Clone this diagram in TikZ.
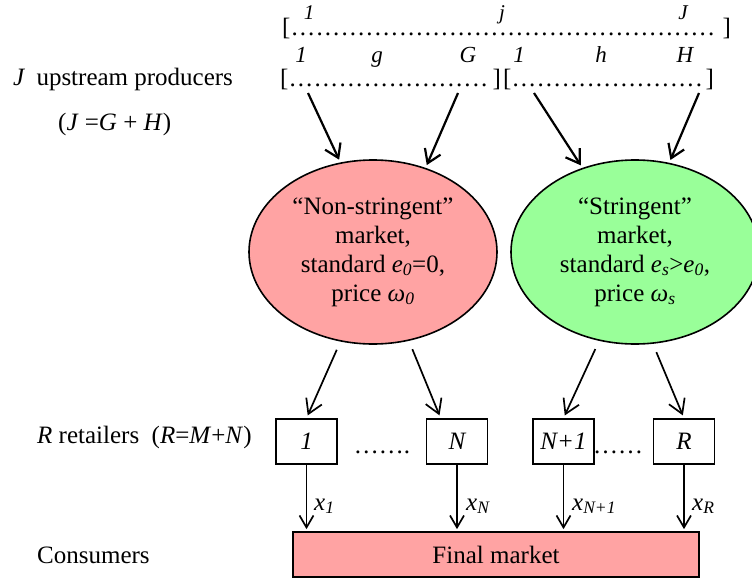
\documentclass[tikz,border=0pt]{standalone}
\usepackage{fontspec}
\setmainfont{Liberation Serif}
\usetikzlibrary{arrows.meta,shapes.geometric}
\definecolor{pinkfill}{RGB}{255,163,163}
\definecolor{greenfill}{RGB}{153,255,153}
\newcommand\dotrow[1]{\makebox[#1]{\leaders\hbox to 8.33pt{\hss.\hss}\hfill}}
\newcommand\subit[1]{\textsubscript{\textit{#1}}}
\begin{document}
\begin{tikzpicture}[x=1pt,y=-1pt,
  txt/.style={font=\fontsize{25}{29}\selectfont, inner sep=0pt},
  lab/.style={font=\fontsize{23}{27}\selectfont\itshape, inner sep=0pt, anchor=base},
  toplab/.style={font=\fontsize{21}{25}\selectfont\itshape, inner sep=0pt, anchor=base},
  market/.style={ellipse, draw, line width=1.6pt, minimum width=248pt, minimum height=184pt, inner sep=0pt, align=center, font=\fontsize{25}{29}\selectfont},
  retailer/.style={draw, line width=1.7pt, minimum width=61pt, minimum height=45pt, inner sep=0pt, font=\fontsize{25}{29}\selectfont\itshape},
  bigarrow/.style={line width=2.2pt, -{Straight Barb[length=13pt,width=17pt]}},
  midarrow/.style={line width=1.7pt, -{Straight Barb[length=14pt,width=17pt]}},
  downarrow/.style={line width=1.7pt, -{Straight Barb[length=12pt,width=14pt]}},
]
\useasboundingbox[fill=white] (0,0) rectangle (752,581);

% producer rows
\node[toplab] (lj1) at (309,19) {1};
\node[toplab] (ljj) at (502,19) {j};
\node[toplab] (ljJ) at (683,19) {J};
\node[txt, anchor=base west] (row1l) at (282,35) {[};
\node[txt, anchor=base west] (row1d) at (290.3,35) {\dotrow{432pt}};
\node[txt, anchor=base west] (row1r) at (722.3,35) {]};
\node[lab] (lg1) at (301,62) {1};
\node[lab] (lgg) at (377,62) {g};
\node[lab] (lgG) at (468,62) {G};
\node[lab] (lh1) at (519,62) {1};
\node[lab] (lhh) at (601,62) {h};
\node[lab] (lhH) at (685,62) {H};
\node[txt, anchor=base] (grpG) at (390.5,86) {[\dotrow{204pt}]};
\node[txt, anchor=base] (grpH) at (608.5,86) {[\dotrow{194pt}]};

% left labels
\node[txt, anchor=base west] (prod) at (13,85) {\textit{J}\hspace{0.45em}upstream producers};
\node[txt, anchor=base west] (sum) at (58,130) {(\textit{J} =\textit{G} + \textit{H})};
\node[txt, anchor=base west] (ret) at (37,443) {\textit{R} retailers\ \ (\textit{R}=\textit{M}+\textit{N})};
\node[txt, anchor=base west] (cons) at (37,563) {Consumers};

% markets
\node[market, fill=pinkfill] (e1) at (373,252) {“Non-stringent”\\market,\\standard \textit{e}\subit{0}=0,\\price \textit{ω}\subit{0}};
\node[market, fill=greenfill] (e2) at (635,252) {“Stringent”\\market,\\standard \textit{e}\subit{s}>\textit{e}\subit{0},\\price \textit{ω}\subit{s}};

% retailers
\node[retailer] (b1) at (306.5,441.5) {1};
\node[retailer] (bN) at (457,441.5) {N};
\node[retailer] (bN1) at (563.5,441.5) {N+1};
\node[retailer] (bR) at (684,441.5) {R};
\node[txt, anchor=base] (dots1) at (382,453) {…….};
\node[txt, anchor=base] (dots2) at (618,453) {……};

% final market
\node[txt, draw, line width=1.7pt, fill=pinkfill, minimum width=406pt, minimum height=45pt] (fm) at (496,554.5) {Final market};

% producer arrows
\coordinate (p1) at (308,93);
\coordinate (p2) at (458,93);
\coordinate (p3) at (534,93);
\coordinate (p4) at (699,93);
\draw[bigarrow, shorten >=3pt] (p1) -- (e1.110);
\draw[bigarrow, shorten >=3pt] (p2) -- (e1.58);
\draw[bigarrow, shorten >=3pt] (p3) -- (e2.122);
\draw[bigarrow, shorten >=3pt] (p4) -- (e2.69);

% market to retailer arrows
\draw[midarrow, shorten <=9pt, shorten >=3pt] (e1.250) -- (b1.north);
\draw[midarrow, shorten <=9pt, shorten >=3pt] (e1.292) -- (bN.125);
\draw[midarrow, shorten <=9pt, shorten >=3pt] (e2.248) -- (bN1.north);
\draw[midarrow, shorten <=9pt, shorten >=3pt] (e2.281) -- (bR.north);

% retailer to final market
\draw[downarrow, shorten >=2pt] (b1.south) -- (b1.south |- fm.north);
\draw[downarrow, shorten >=2pt] (bN.south) -- (bN.south |- fm.north);
\draw[downarrow, shorten >=2pt] (bN1.south) -- (bN1.south |- fm.north);
\draw[downarrow, shorten >=2pt] (bR.south) -- (bR.south |- fm.north);
\node[txt, anchor=base west] (x1) at (314,510) {\textit{x}\subit{1}};
\node[txt, anchor=base west] (xN) at (466,510) {\textit{x}\subit{N}};
\node[txt, anchor=base west] (xN1) at (572,510) {\textit{x}\subit{N+1}};
\node[txt, anchor=base west] (xR) at (692,510) {\textit{x}\subit{R}};
\end{tikzpicture}
\end{document}
